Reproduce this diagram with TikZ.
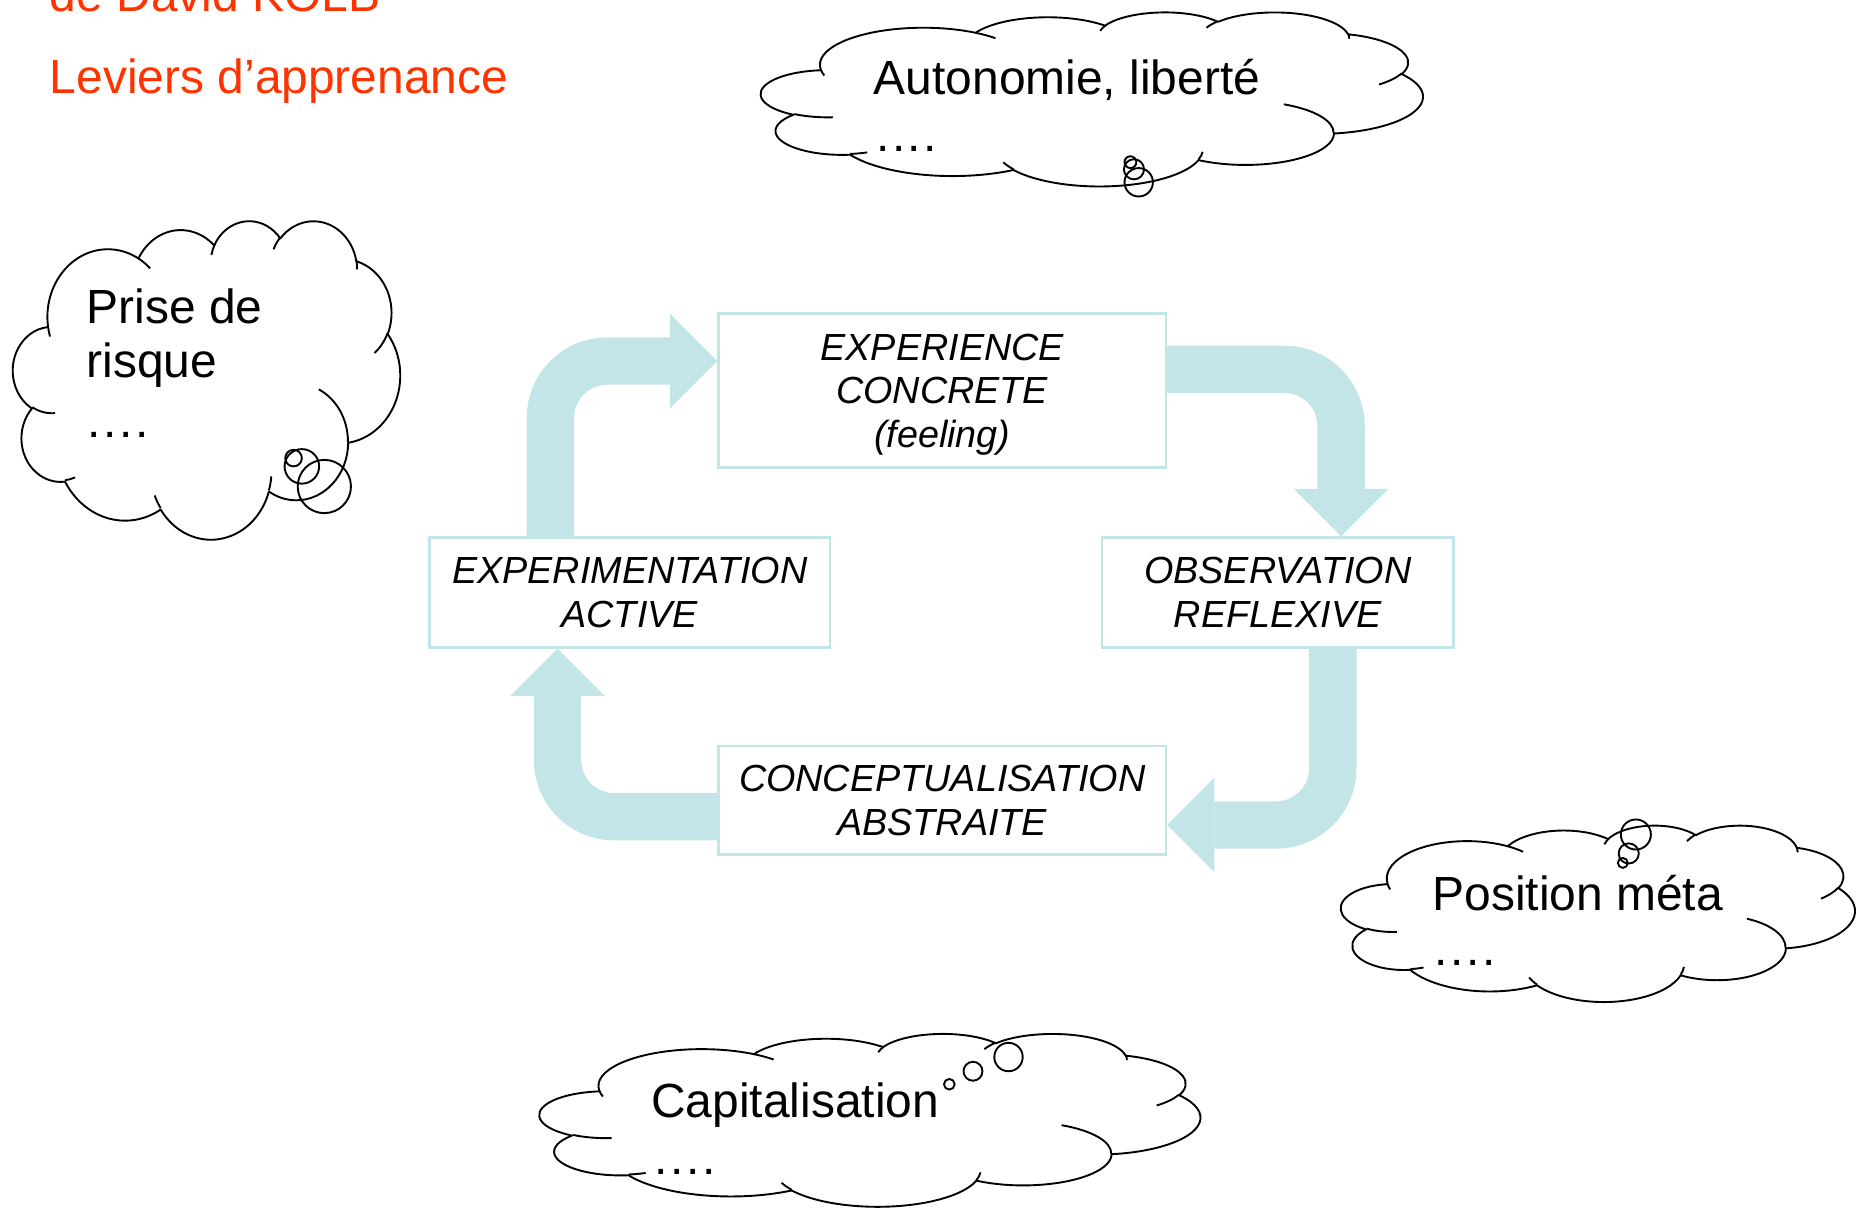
\documentclass[tikz,border=0pt]{standalone}
\usepackage{fontspec}
\setmainfont{Liberation Sans}
\usetikzlibrary{arrows.meta}
\definecolor{bandc}{RGB}{196,229,232}
\definecolor{titlered}{RGB}{255,51,0}
% DrawingML-style elliptic arc (visual angles -> parametric)
\newcommand\mkarc[5]{%
  \pgfmathsetmacro\tmpS{atan2((#2)*sin(#4),(#3)*cos(#4))}%
  \pgfmathsetmacro\tmpE{atan2((#2)*sin((#4)+(#5)),(#3)*cos((#4)+(#5)))}%
  \pgfmathsetmacro\tmpD{\tmpE-\tmpS}%
  \pgfmathsetmacro\tmpD{\tmpD+360*round(((#5)-\tmpD)/360)}%
  \expandafter\xdef\csname #1\endcsname{arc[start angle=\tmpS,delta angle=\tmpD,x radius=#2,y radius=#3]}%
}
\mkarc{arcA}{15.632}{21.273}{-190.4875}{123.7805}
\mkarc{arcB}{12.345}{16.822}{-144.1024}{89.9452}
\mkarc{arcC}{10.104}{13.762}{-145.8079}{99.7230}
\mkarc{arcD}{11.243}{15.266}{-130.9861}{117.2417}
\mkarc{arcE}{12.345}{16.836}{-78.7089}{109.0269}
\mkarc{arcF}{15.683}{21.343}{-46.2673}{130.2690}
\mkarc{arcG}{13.391}{18.211}{0.6250}{114.0333}
\mkarc{arcH}{15.630}{21.331}{22.4516}{115.1726}
\mkarc{arcI}{17.870}{24.405}{66.2426}{75.7110}
\mkarc{arcJ}{10.093}{13.699}{-274.9421}{146.7356}
\mkarc{arcK}{10.058}{13.762}{-246.8285}{152.5189}
\mkarc{inA}{10.058}{13.762}{86.7420}{26.4295}
\mkarc{inB}{10.093}{13.699}{73.6105}{11.4475}
\mkarc{inC}{15.630}{21.331}{137.6242}{14.0811}
\mkarc{inD}{15.630}{21.331}{6.4533}{15.9984}
\mkarc{inE}{13.391}{18.211}{-70.2924}{70.9174}
\mkarc{inF}{12.345}{16.836}{30.3180}{27.7515}
\mkarc{inG}{11.243}{15.266}{-13.7443}{14.8589}
\mkarc{inH}{11.243}{15.266}{-149.1815}{18.1954}
\mkarc{inI}{10.104}{13.762}{-163.4943}{17.6864}
\mkarc{inJ}{15.632}{21.273}{-66.7070}{12.3194}
\mkarc{inK}{15.632}{21.273}{157.6544}{11.8582}
\newcommand\cloudout{(9.0278,33.2639) \arcA \arcB \arcC \arcD \arcE \arcF \arcG \arcH \arcI \arcJ \arcK -- cycle}
\newcommand\cloudin{(10.863,60.595) \inA (16.037,80.785) \inB (38.144,90.486) \inC (66.729,80.442) \inD (79.002,53.134) \inE (96.755,35.542) \inF (88.713,12.560) \inG (67.310,9.148) \inH (51.252,10.926) \inI (32.407,12.019) \inJ (9.553,36.549) \inK}
\newcommand\fourdots{.\kern2.2pt.\kern2.2pt.\kern2.2pt.}
\tikzset{
  boxn/.style={draw=bandc, line width=2pt, fill=white, inner sep=0pt, align=center,
    text depth=0pt, font=\itshape\fontsize{31.9}{37}\selectfont},
  band/.style={draw=bandc, line width=40pt, rounded corners=48pt,
    -{Triangle[width=80pt,length=40pt,line width=0pt]}},
  cloudline/.style={draw=black, line width=1.6pt, line join=round},
  ctext/.style={anchor=base west, inner sep=0pt, font=\fontsize{40.5}{46}\selectfont},
  ttext/.style={anchor=base west, inner sep=0pt, text=titlered, font=\fontsize{40.5}{46}\selectfont}
}
\begin{document}
\begin{tikzpicture}[x=1pt,y=-1pt]
\useasboundingbox (0,0) rectangle (1568,1021);
% titles
\node[ttext] (t1) at (42,10) {de David KOLB};
\node[ttext] (t2) at (42,79) {Leviers d’apprenance};
% boxes
\node[boxn, minimum width=378pt, minimum height=130pt] (exp) at (796,330) {EXPERIENCE\\CONCRETE\\(feeling)};
\node[boxn, minimum width=297pt, minimum height=93pt] (obs) at (1079.5,500.5) {OBSERVATION\\REFLEXIVE};
\node[boxn, minimum width=338pt, minimum height=93pt] (act) at (532,500.5) {EXPERIMENTATION\\ACTIVE};
\node[boxn, minimum width=378pt, minimum height=92pt] (con) at (796,676) {CONCEPTUALISATION\\ABSTRAITE};
% band corners
\coordinate (c1) at (465,305);
\coordinate (c2) at (1133,312);
\coordinate (c3) at (1126,697);
\coordinate (c4) at (471,690);
\draw[band] (act.north -| c1) -- (c1) -- (exp.west |- c1);
\draw[band] (exp.east |- c2) -- (c2) -- (obs.north -| c2);
\draw[band] (obs.south -| c3) -- (c3) -- (con.east |- c3);
\draw[band] (con.west |- c4) -- (c4) -- (act.south -| c4);
% cloud 1
\begin{scope}[shift={(643,10)}, x=5.59pt, y=-1.47pt]
  \draw[cloudline, fill=white] \cloudout;
  \draw[cloudline] \cloudin;
\end{scope}
\draw[cloudline] (955,137) circle (5);
\draw[cloudline] (958,143) circle (8.5);
\draw[cloudline] (962,154) circle (12);
\node[ctext] (a1) at (738,80) {Autonomie, liberté};
\node[ctext] (a2) at (740,128) {\fourdots};
% cloud 2
\begin{scope}[shift={(11,186)}, x=3.27pt, y=-2.69pt]
  \draw[cloudline, fill=white] \cloudout;
  \draw[cloudline] \cloudin;
\end{scope}
\draw[cloudline] (248,387) circle (7);
\draw[cloudline] (255,394) circle (14.6);
\draw[cloudline] (274,411) circle (22.5);
\node[ctext] (p1) at (73,273) {Prise de};
\node[ctext] (p2) at (73,319) {risque};
\node[ctext] (p3) at (74,370) {\fourdots};
% cloud 3
\begin{scope}[shift={(1133,697)}, x=4.34pt, y=-1.49pt]
  \draw[cloudline, fill=white] \cloudout;
  \draw[cloudline] \cloudin;
\end{scope}
\draw[cloudline] (1382,705) circle (12.7);
\draw[cloudline] (1376,721) circle (8.5);
\draw[cloudline] (1371,729) circle (4.2);
\node[ctext] (m1) at (1210,769) {Position méta};
\node[ctext] (m2) at (1212,816) {\fourdots};
% cloud 4
\begin{scope}[shift={(456,873)}, x=5.58pt, y=-1.46pt]
  \draw[cloudline, fill=white] \cloudout;
  \draw[cloudline] \cloudin;
\end{scope}
\draw[cloudline] (802,916) circle (4.5);
\draw[cloudline] (822,905) circle (8);
\draw[cloudline] (852,893) circle (12);
\node[ctext] (k1) at (550,944) {Capitalisation};
\node[ctext] (k2) at (553,992) {\fourdots};
\end{tikzpicture}
\end{document}
